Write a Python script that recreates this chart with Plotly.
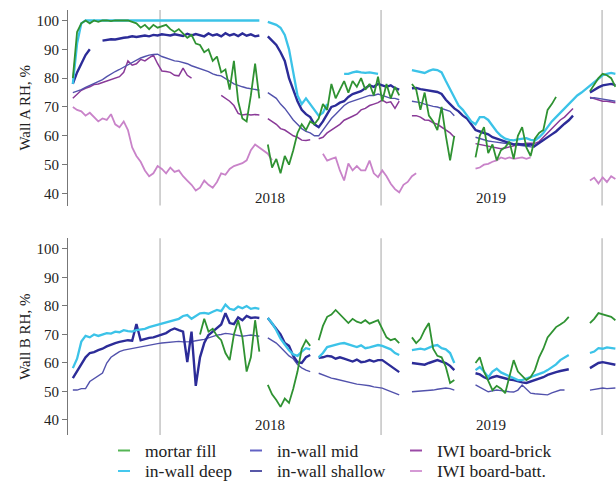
import pandas as pd
import plotly.graph_objects as go

N = None

# weekly sample dates shared by every sensor series
dates = pd.date_range("2017-08-03", periods=130, freq="7D")

# ---- Wall A relative humidity, % ----
wall_a_mortar = [
    N, 80, 96, 99, 100, 99, 100, 99.5, 100, 100,
    99.8, 100, 100, 99.8, 100, 99.5, 99, 97.5, 98.5, 97,
    98.5, 97.5, 98, 98.5, 97, 96, 97, 95.5, 94, 95,
    92, 91.5, 89, 90, 86, 87.5, 82, 83, 76, 86,
    72, 66, 65, 74, 85, 73, N, 57, 49, 52,
    47, 53, 50, 55, 61, 64, 62, 65, 64, 66,
    71, 69, 78, 73, 76, 79, 75, 79, 77, 80,
    76, 78, 74, 80.5, 72, 78, 73, 77, 74, N,
    N, 78, 76, 69, 75, 67, 65, 62, 70, 60,
    51.5, 60, N, N, N, N, 52.5, 60, 63, 54,
    57, 51.5, 55, 56, 58, 52, 60, 63, 56, 53,
    59, 61, 62, 69, 71, 73.5, N, N, N, N,
    N, N, N, 75.5, 78, 80, 81.5, 81, 80, 77,
]
wall_a_deep = [
    N, 78, 92, 99, 100, 100, 100, 100, 100, 100,
    100, 100, 100, 100, 100, 100, 100, 100, 100, 100,
    100, 100, 100, 100, 100, 100, 100, 100, 100, 100,
    100, 100, 100, 100, 100, 100, 100, 100, 100, 100,
    100, 100, 100, 100, 100, 100, N, 99.5, 99, 98.5,
    97.5, 95, 90, 82, 74, 71, 73, 71, 69, 67,
    68, 71, N, N, N, 81.5, 81.5, 82, 82.3, 82,
    81.8, 82, 81.7, 81.5, N, N, N, N, N, N,
    N, 82.8, 82.5, 82, 81.8, 82.5, 83, 82.8, 82, 79,
    76, 73, 70.5, 69, 67, 65, 64, 66.5, 66.5, 65.5,
    63.5, 61.5, 60, 59, 58.6, 58.4, 58.8, 59, 59.2, 58.6,
    58.4, 59.5, 61, 63, 65, 66.5, 68, 69.5, 71, 72.5,
    74, 75, 76.2, 77.5, 78.5, 79.8, 81, 81.5, 81.8, 81.5,
]
wall_a_mid = [
    N, 78, 82, 85, 88, 90, N, N, 93, 93.2,
    93.5, 93.4, 93.8, 94, 94.2, 94.5, 94.3, 94.6, 94.8, 94.5,
    95, 94.8, 95.2, 95, 94.8, 95.2, 95, 94.6, 95.4, 94.8,
    95.3, 95, 94.5, 95.5, 94.8, 95.2, 94.5, 95.6, 94.8, 95.3,
    94.6, 95.5, 94.7, 95.2, 94.5, 94.8, N, 94.5, 93, 91.5,
    89, 86, 80, 76, 72, 69, 67.5, 66.5, 64, 63,
    65, 67.5, 70, 70.5, 71.5, 72, 73.5, 74.5, 75, 75.5,
    76.5, 77.5, 77, 78, 77.5, 77, 77.5, 76.5, 76, N,
    N, 76.5, 76.6, 76.2, 76, 75.8, 75.5, 75.2, 74.5, 72.5,
    71, 69.5, 68.5, 67, 66, 64, 62, 61.5, 61, 60.5,
    59.5, 59, 58.4, 58, 57.5, 57, 57.2, 57, 56.8, 57,
    56.5, 57.5, 58.4, 59.5, 60.5, 61.5, 63, 64.2, 65.4, 67,
    N, N, N, 75, 76, 76.8, 77.5, 77.8, 78, 77.6,
]
wall_a_shallow = [
    N, 75, 75.5, 76, 76.8, 77.5, 78.2, 79, 79.5, 80.5,
    81.5, 82.3, 83, 83.8, 84.6, 85.5, 86.2, 87, 87.5, 88,
    88.2, 88.3, 87.5, 87, 86.5, 86, 85.8, 85.5, 85, 84.3,
    83.8, 83.2, 82.8, 82.3, 81.5, 81, 80.8, 80, 79, 78,
    77.4, 77, 76.6, 76.3, 76, 75.8, N, 75, 74, 73,
    71, 69.5, 67.5, 65.5, 64, 62.5, 61.5, 61, 60, 60,
    62, 64, 66, 67.5, 69, 70.5, 71.5, 72, 72.5, 73,
    73.5, 74, 74, 74.5, 74, 73.5, 73, 73, 72.5, N,
    N, 72, 71.8, 71.5, 71, 70.5, 70.2, 70, 69.5, 69,
    68.5, 67, N, N, N, N, 59.5, 59, 58.5, 58.2,
    58, 57.8, 57.5, 57.4, 57.2, 57, 56.8, 56.5, 56.2, 56,
    56, N, N, N, N, N, N, N, N, N,
    N, N, N, 73, 73.2, 73, 72.8, 72.5, 72.3, 72,
]
wall_a_brick = [
    N, 73, 74.5, 75.8, 76.5, 77, 77.8, 78, 78.5, 79,
    79.5, 80, 80.5, 82, 86, 84.5, 85, 86.5, 86, 87,
    88, 85, 82.5, 82.3, 82, 81, 80.8, 83.5, 81, 80,
    N, N, N, N, N, N, 74, 73, 72, 70.5,
    67.8, 67.2, 67.5, 67.2, 67.4, 67.2, N, 66, 65, 64,
    62.5, 62, 61, 60, 59.5, 58.5, 58.4, 58.6, N, 59,
    59.5, 61, 62, 63, 64, 65.4, 66, 66.8, 67.5, 69,
    69.5, 70.5, 71, 71.5, 72.4, 71.5, 71.8, 69.5, 72, N,
    N, 67, 67, 66.5, 65.5, 65.4, 64.5, 64, 63, 62,
    61, 59.5, N, N, N, N, 57.3, 57, 56.5, 56.2,
    56, 55.7, 55.5, 55.8, 56.2, 56.5, 57, 57.2, 57.4, 57.4,
    57.4, 58, 59.5, 61, 62.5, 64, 65.5, 66.5, 68, 69.5,
    N, N, N, 73.4, 73, 72.5, 72, 72, 71.8, 71.5,
]
wall_a_batt = [
    N, 70, 69, 68.5, 67, 68, 66.5, 65, 66, 65.5,
    67.5, 64, 63, 65, 62, 56, 53, 51, 48, 46,
    47, 49.5, 48.5, 47, 49, 47.5, 48, 46, 44.5, 43,
    41, 42, 44.5, 43, 42, 44, 47, 46.5, 48.5, 49.5,
    50, 50.5, 51.5, 55, 57, 56, 55, 53.8, 51.5, N,
    N, N, N, N, N, N, N, N, N, N,
    53.8, 51.4, 52, 52.5, 48, 44.5, 50.4, 48, 49.5, 48,
    48, 51.4, 47, 45.7, 48, 46, 43.4, 41.5, 40.4, 43,
    44, 46, 47, N, N, N, N, N, N, N,
    N, N, N, N, N, N, 48.6, 49, 50, 50.3,
    51, 51.5, 52.5, 52, 52.5, 52, 52.3, 52.5, 52, 52.5,
    N, N, N, N, N, N, N, N, N, N,
    N, N, N, 44.5, 45.5, 43.5, 45.6, 44, 46, 45,
]

# ---- Wall B relative humidity, % ----
wall_b_mortar = [
    N, N, N, N, N, N, N, N, N, N,
    N, N, N, N, N, N, N, N, N, N,
    N, N, N, N, N, N, N, N, N, N,
    N, 70, 75.5, 71, 72, 69.5, 68, 63.5, 61, 70,
    75, 69, 57, 62, 75, 64, N, 52.3, 49, 47,
    44.6, 47.5, 46, 51, 57, 65, 68, 66, N, 68,
    73, 76.2, 77, 78.6, 77, 75.5, 74, 75.5, 74.5, 74,
    75, 73.8, 74.5, 75, 72, 69, 68, 68.5, 67, N,
    N, 69, 67, 68.5, 71.6, 74, 65, 62.5, 62, 58.6,
    53, 54, N, N, N, N, 60, 62, 57, 54,
    50.5, 52, 51, 49.4, 55, 61, 57, 55.5, 54, 55,
    57.5, 62, 65, 69, 71, 72.6, 73.5, 74.5, 76.2, N,
    N, N, N, 74, 75.5, 77.5, 77, 76.5, 76.2, 75,
]
wall_b_deep = [
    N, 58.2, 61.5, 67.5, 69.5, 69, 70, 69.5, 70, 70.5,
    70.3, 71, 70.8, 71.5, 71.2, 71, 71.5, 71.8, 72, 72.6,
    73, 73.5, 74, 74.3, 74.8, 75, 75.5, 76.5, 76.8, 75.5,
    76.5, 77.4, 77.6, 77.3, 78, 78.6, 78.2, 80.5, 79, 78.6,
    79.8, 79.2, 80, 79, 79.3, 79, N, 75.8, 74, 71.5,
    68.5, 66.5, 64.5, 63, 62.5, 64, 65.2, 64.8, N, 62,
    63.5, 65.6, 66, 66.5, 66.8, 67, 66.5, 66, 65.6, 66.2,
    65.2, 65.5, 66, 66.3, 66, 65.5, 64.8, 63.5, 62.8, N,
    N, 64.5, 64.8, 65, 64.7, 65.5, 66, 66.3, 65.2, 64.8,
    63.5, 60, N, N, N, N, 57.5, 58.6, 57, 55,
    57, 58, 56.7, 56, 55.4, 54.5, 54, 54, 54.5, 55,
    55.5, 56.2, 56.7, 57.5, 58.6, 59.5, 61, 61.8, 62.8, N,
    N, N, N, 63.5, 64, 65.2, 65, 65.5, 65.2, 65,
]
wall_b_mid = [
    N, 54.7, 57, 59.3, 62, 63.5, 63.8, 64.5, 65, 65.8,
    66.5, 67, 67.4, 67.6, 68, 67.8, 73.7, 68, 68.5, 68.8,
    69, 69.5, 69.8, 70.5, 71.5, 72.1, 71.5, 71, 60.3, 71,
    52, 62, 67, 69.8, 71, 72.1, 73.5, 77.5, 74, 73.6,
    76, 75, 76.5, 75.8, 76, 75.8, N, 75.8, 74, 72,
    70, 67, 66, 62.5, 60.3, 60, 62, 62.8, N, 61.8,
    62, 62.5, 62.3, 61.5, 62, 61.5, 61, 60.5, 61.2, 60.3,
    60.5, 61, 60.5, 61, 61, 60, 59, 58, 56.8, N,
    N, 60, 59.8, 59.6, 59.4, 60, 60.5, 61, 60.5, 60,
    59, 57.5, N, N, N, N, 56.4, 56, 55, 54.4,
    55, 55.4, 55, 54.5, 54.2, 54, 53.5, 53.2, 53, 53.5,
    54, 54.4, 55, 55.8, 56.4, 56.8, 57.2, 57.5, 57.8, N,
    N, N, N, 58.2, 59, 60, 60.3, 60, 59.6, 59.4,
]
wall_b_shallow = [
    N, 50.5, 50.5, 51, 51, 53.5, 54.5, 55.5, 56.5, 60,
    62, 63, 64, 64.5, 64.8, 65, 65.3, 65.8, 66, 66.3,
    66.5, 66.8, 67, 67.2, 67.4, 67.4, 67.6, 67.4, 67.4, 67.5,
    67.8, 68, 68.3, 68.8, 69.3, 69.8, 70, 70.4, 70.2, 70,
    69.6, 69.4, 69.6, 69.8, 69.6, 69.4, N, 68.8, 68, 67,
    65.5, 64, 62.5, 61.5, 59.5, 58.3, 57.5, 57, N, 56.4,
    55.8, 55.2, 54.7, 54.4, 54, 53.6, 53.3, 53, 52.6, 52.4,
    52.3, 52, 51.6, 51.3, 51.2, 50.6, 50, 49.4, 48.8, N,
    N, 49.9, 50, 50.2, 50.3, 50.5, 50.5, 50.8, 51, 51.2,
    51, 50.5, N, N, N, N, 52.3, 51.5, 50.5, 49.9,
    50.2, 50.5, 50.3, 50, 49.9, 49.8, 50.5, 52.3, 51, 49.4,
    49.2, 49, 48.8, 48.8, 49.5, 50, 50.5, 50.5, N, N,
    N, N, N, 50.5, 50.8, 51, 51.2, 51, 51.2, 51.2,
]

year_lines = ["2018-01-01", "2019-01-01", "2020-01-01"]
year_labels = ["2018", "2019"]
year_label_dates = ["2018-07-02", "2019-07-02"]
y_ticks = [40, 50, 60, 70, 80, 90, 100]

# legend laid out column by column, as in the printed figure
legend_columns = [
    ["mortar fill", "in-wall deep"],
    ["in-wall mid", "in-wall shallow"],
    ["IWI board-brick", "IWI board-batt."],
]

SERIF = "Times New Roman, Liberation Serif, Tinos, DejaVu Serif, serif"
colors = {
    "mortar fill": "#2f9232",
    "in-wall deep": "#3cc3e8",
    "in-wall mid": "#2c2c98",
    "in-wall shallow": "#5252ac",
    "IWI board-brick": "#8a3a98",
    "IWI board-batt.": "#c983c9",
}
swatch_colors = {
    "mortar fill": "#55b555",
    "in-wall deep": "#45c8ee",
    "in-wall mid": "#6262c4",
    "in-wall shallow": "#5858a8",
    "IWI board-brick": "#9a4aa6",
    "IWI board-batt.": "#d59ad5",
}
widths = {
    "mortar fill": 1.8,
    "in-wall deep": 2.3,
    "in-wall mid": 2.4,
    "in-wall shallow": 1.4,
    "IWI board-brick": 1.5,
    "IWI board-batt.": 1.8,
}

wall_a = [
    ("IWI board-batt.", wall_a_batt),
    ("IWI board-brick", wall_a_brick),
    ("in-wall shallow", wall_a_shallow),
    ("in-wall mid", wall_a_mid),
    ("in-wall deep", wall_a_deep),
    ("mortar fill", wall_a_mortar),
]
wall_b = [
    ("in-wall shallow", wall_b_shallow),
    ("in-wall mid", wall_b_mid),
    ("in-wall deep", wall_b_deep),
    ("mortar fill", wall_b_mortar),
]

fig = go.Figure()
for xa, ya, series in [("x", "y", wall_a), ("x2", "y2", wall_b)]:
    for name, vals in series:
        fig.add_trace(go.Scatter(
            x=dates, y=vals, name=name, mode="lines", connectgaps=False,
            line=dict(color=colors[name], width=widths[name]),
            xaxis=xa, yaxis=ya, showlegend=False,
        ))

W, H = 616, 483
x_dom = [68 / W, 1.0]
top_dom = [1 - 205.6 / H, 1 - 10.1 / H]
bot_dom = [1 - 435.1 / H, 1 - 238.3 / H]
x_range = ["2017-08-02", "2020-01-24"]

text_font = dict(family=SERIF, size=15, color="#222")
xaxis_style = dict(domain=x_dom, range=x_range, type="date", showgrid=False,
                   showline=False, zeroline=False, showticklabels=False, ticks="")
yaxis_style = dict(tickvals=y_ticks, ticks="outside", ticklen=5, tickcolor="#777",
                   showline=True, linecolor="#777", linewidth=1, showgrid=False,
                   zeroline=False, tickfont=text_font)

shapes = []
annotations = []
for yref in ["y domain", "y2 domain"]:
    for d in year_lines:
        shapes.append(dict(type="line", xref="x", yref=yref, x0=d, x1=d, y0=0, y1=1,
                           line=dict(color="#b4b4b4", width=1.2), layer="below"))
for yy in [1 - 198 / H, 1 - 425 / H]:
    for d, lab in zip(year_label_dates, year_labels):
        annotations.append(dict(x=d, xref="x", y=yy, yref="paper", text=lab,
                                showarrow=False, xanchor="center", yanchor="middle",
                                font=text_font))

# legend block under the lower panel
col_text_x = [145, 277, 437]
row_y = [450.5, 471.0]
for cx, names in zip(col_text_x, legend_columns):
    for ry, name in zip(row_y, names):
        yp = 1 - ry / H
        shapes.append(dict(type="line", xref="paper", yref="paper",
                           x0=(cx - 27) / W, x1=(cx - 15) / W, y0=yp, y1=yp,
                           line=dict(color=swatch_colors[name], width=2)))
        annotations.append(dict(x=(cx - 2) / W, xref="paper", y=yp, yref="paper",
                                text=name, showarrow=False, xanchor="left",
                                yanchor="middle",
                                font=dict(family=SERIF, size=17.5, color="#222")))

fig.update_layout(
    width=W, height=H,
    margin=dict(l=0, r=0, t=0, b=0),
    paper_bgcolor="white", plot_bgcolor="white",
    font=dict(family=SERIF, color="#222"),
    showlegend=False,
    xaxis=dict(**xaxis_style, anchor="y"),
    xaxis2=dict(**xaxis_style, anchor="y2", matches="x"),
    yaxis=dict(**yaxis_style, domain=top_dom, range=[35.8, 103.6], anchor="x",
               title=dict(text="Wall A RH, %", standoff=2, font=text_font)),
    yaxis2=dict(**yaxis_style, domain=bot_dom, range=[34.7, 103.75], anchor="x2",
                title=dict(text="Wall B RH, %", standoff=2, font=text_font)),
    shapes=shapes,
    annotations=annotations,
)

fig.write_html("out.html")
